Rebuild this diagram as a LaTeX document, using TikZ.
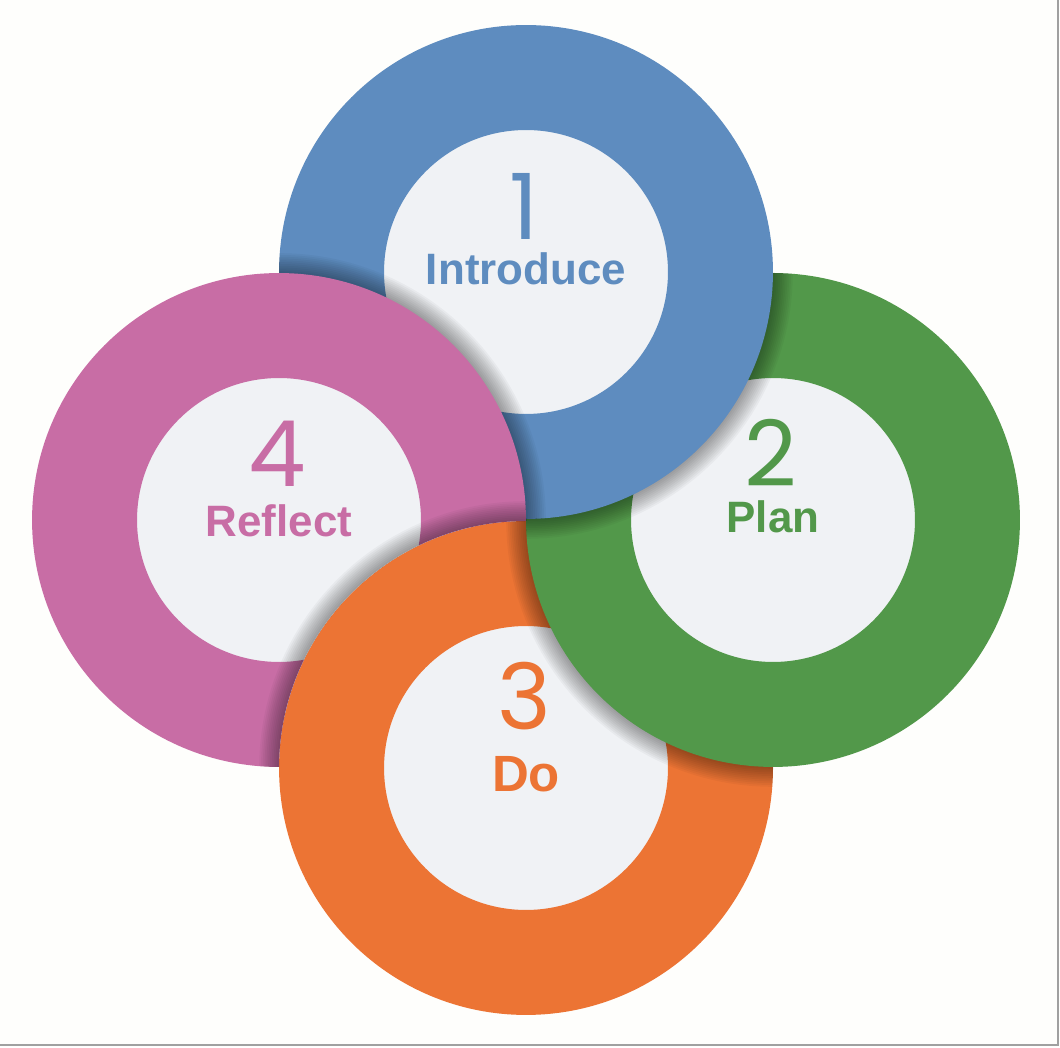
\documentclass[tikz,border=0pt]{standalone}
\usepackage{fontspec}
\setmainfont{Liberation Sans}
\newfontfamily\cycnumfont{Poppins}
\usetikzlibrary{calc}
\definecolor{cycBack}{HTML}{FEFEFC}
\definecolor{cycInner}{HTML}{F0F2F5}
\definecolor{cycFrame}{HTML}{A0A0A0}
\definecolor{cycBlue}{HTML}{5E8CBF}
\definecolor{cycGreen}{HTML}{52984A}
\definecolor{cycOrange}{HTML}{EC7434}
\definecolor{cycPink}{HTML}{C86DA5}

\begin{document}
\begin{tikzpicture}[x=0.02cm,y=0.02cm,
  cycring/.style={circle,minimum size=7.78cm,inner sep=0pt,line width=2.1cm,fill=cycInner},
  cycshade/.style={black,fill opacity=0.035},
  cycnum/.style={anchor=base,inner sep=0pt,font=\cycnumfont\fontsize{52}{60}\selectfont},
  cyclabel/.style={anchor=base,inner sep=0pt,font=\bfseries\fontsize{#1}{30}\selectfont}]
  \fill[cycBack] (0,0) rectangle (1060,1047);
  \path[use as bounding box] (0,0) rectangle (1060,1047);
  \draw[cycFrame,line width=0.6pt] (1058,1047)--(1058,2)--(0,2);

  \coordinate (cIntro) at (526,775);
  \coordinate (cPlan) at (773,527);
  \coordinate (cDo) at (526,279);
  \coordinate (cReflect) at (279,527);

  % the rings are woven: pink over blue over green over orange over pink
  \node[cycring,draw=cycOrange] (do) at (cDo) {};

  \begin{scope}
    \clip (cDo) circle (247);
    \foreach \k in {0,...,11}
      {\fill[cycshade] (cPlan) circle ({247+1.8*\k});}
  \end{scope}
  \node[cycring,draw=cycGreen] (plan) at (cPlan) {};

  \begin{scope}
    \clip (cPlan) circle (247);
    \foreach \k in {0,...,11}
      {\fill[cycshade] (cIntro) circle ({247+1.8*\k});}
  \end{scope}
  \node[cycring,draw=cycBlue] (intro) at (cIntro) {};

  \begin{scope}
    \clip (cIntro) circle (247);
    \foreach \k in {0,...,11}
      {\fill[cycshade] (cReflect) circle ({247+1.8*\k});}
  \end{scope}

  % pink stays out of the orange disk, so orange reads as lying on top
  \begin{scope}[even odd rule]
    \clip (0,0) rectangle (1060,1047) (cDo) circle (247);
    \node[cycring,draw=cycPink] (reflect) at (cReflect) {};
    \clip (cReflect) circle (247);
    \foreach \k in {0,...,11}
      {\fill[cycshade] (cDo) circle ({247+1.8*\k});}
  \end{scope}

  \foreach \ring/\col/\num/\lbl/\dn/\dl/\fs in
    {intro/cycBlue/1/Introduce/32/-13/25, plan/cycGreen/2/Plan/33/-13/25,
     do/cycOrange/3/Do/38/-24/29, reflect/cycPink/4/Reflect/33/-17/25}
    {\node[cycnum,text=\col] (\ring num) at ($(\ring.center)+(-2,\dn)$) {\num};
     \node[cyclabel=\fs,text=\col] (\ring label) at ($(\ring.center)+(0,\dl)$) {\lbl};}
\end{tikzpicture}
\end{document}
